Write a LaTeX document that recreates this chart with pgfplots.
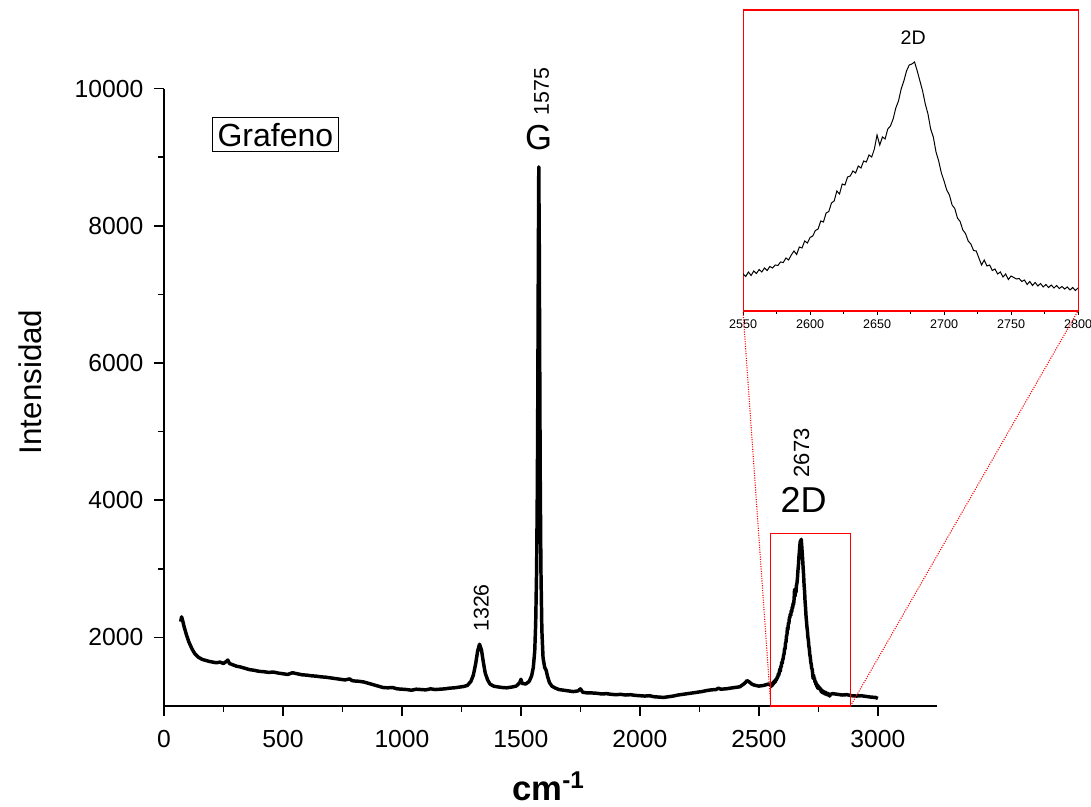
\documentclass[border=0pt]{standalone}
\usepackage{fontspec}
\setmainfont{Liberation Sans}
\usepackage{pgfplots}
\pgfplotsset{compat=1.18}
\usepackage{pgfplotstable}

% Raman spectrum of graphene
\pgfplotstableread{
x y
70 2230
74 2300
78 2250
85 2150
95 2030
105 1930
118 1830
130 1760
145 1710
160 1680
175 1665
190 1650
205 1640
220 1630
235 1640
250 1620
262 1650
268 1670
275 1620
290 1600
305 1580
320 1570
340 1550
360 1530
380 1520
400 1505
420 1500
440 1490
460 1495
480 1480
500 1470
520 1460
540 1485
560 1470
580 1455
600 1450
620 1440
640 1435
660 1425
680 1420
700 1410
720 1400
740 1390
760 1380
780 1395
790 1370
800 1365
820 1360
840 1350
860 1330
880 1310
900 1290
920 1270
940 1265
960 1270
980 1250
1000 1245
1020 1240
1040 1230
1060 1245
1080 1240
1100 1235
1120 1250
1140 1240
1160 1245
1180 1250
1200 1260
1220 1265
1240 1275
1260 1285
1275 1300
1290 1360
1300 1450
1310 1620
1318 1800
1326 1900
1334 1820
1342 1640
1350 1480
1360 1380
1370 1320
1385 1290
1400 1280
1420 1270
1440 1265
1460 1275
1480 1290
1495 1340
1500 1390
1505 1330
1520 1320
1535 1360
1545 1440
1552 1560
1558 1800
1562 2200
1566 3000
1569 4200
1571 5600
1573 7400
1575 8860
1577 7800
1579 6000
1581 4400
1584 3000
1588 2100
1593 1700
1600 1560
1606 1520
1612 1430
1620 1340
1630 1290
1645 1260
1660 1240
1680 1230
1700 1220
1720 1210
1740 1220
1750 1250
1760 1200
1780 1190
1800 1190
1820 1185
1840 1175
1860 1180
1880 1170
1900 1165
1920 1170
1940 1160
1960 1165
1980 1155
2000 1150
2020 1145
2040 1150
2060 1135
2080 1130
2100 1125
2120 1135
2140 1145
2160 1160
2180 1170
2200 1180
2220 1190
2240 1200
2260 1210
2280 1225
2300 1235
2320 1240
2330 1260
2340 1245
2360 1250
2380 1260
2400 1270
2420 1280
2440 1330
2450 1370
2460 1350
2470 1320
2480 1305
2500 1290
2520 1300
2540 1320
2550 1310
2552 1285
2554 1330
2556 1295
2558 1340
2560 1315
2562 1355
2564 1330
2566 1370
2568 1345
2570 1385
2572 1370
2574 1400
2576 1395
2578 1430
2580 1425
2582 1470
2584 1450
2586 1500
2588 1540
2590 1505
2592 1580
2594 1570
2596 1640
2598 1620
2600 1675
2602 1690
2604 1745
2606 1760
2608 1840
2610 1830
2612 1920
2614 1935
2616 2020
2618 2040
2620 2140
2622 2110
2624 2210
2626 2200
2628 2280
2630 2290
2632 2340
2634 2320
2636 2390
2638 2370
2640 2440
2642 2430
2644 2500
2646 2480
2648 2560
2650 2700
2652 2600
2654 2680
2656 2660
2658 2760
2660 2790
2662 2860
2664 2970
2666 3040
2668 3160
2670 3240
2672 3340
2674 3400
2676 3410
2678 3430
2680 3340
2682 3240
2684 3140
2686 3010
2688 2910
2690 2760
2692 2680
2694 2530
2696 2440
2698 2320
2700 2240
2702 2150
2704 2100
2706 2000
2708 1965
2710 1870
2712 1835
2714 1750
2716 1715
2718 1640
2720 1610
2722 1545
2724 1540
2726 1470
2728 1400
2730 1450
2732 1390
2734 1400
2736 1345
2738 1360
2740 1310
2742 1330
2744 1280
2746 1310
2748 1255
2750 1290
2752 1275
2754 1260
2756 1265
2758 1235
2760 1250
2762 1205
2764 1235
2766 1195
2768 1225
2770 1190
2772 1215
2774 1180
2776 1205
2778 1175
2780 1200
2782 1170
2784 1195
2786 1165
2788 1185
2790 1160
2792 1180
2794 1150
2796 1175
2798 1145
2800 1170
2810 1180
2830 1170
2850 1160
2870 1165
2890 1150
2910 1145
2930 1150
2950 1140
2970 1130
2990 1125
3000 1110
}\spec

\begin{document}
\begin{tikzpicture}
\begin{axis}[
    name=main,
    at={(0,0)}, anchor=south west,
    scale only axis,
    width=580pt, height=463pt,
    xmin=0, xmax=3250,
    ymin=1000, ymax=10000,
    axis x line*=bottom,
    axis y line*=left,
    axis line style={line width=1.5pt},
    tick style={line width=1.2pt, black},
    tick align=outside,
    major tick length=7.5pt,
    minor tick length=4.5pt,
    xtick={0,500,...,3000},
    ytick={2000,4000,...,10000},
    minor x tick num=1,
    minor y tick num=1,
    scaled y ticks=false,
    scaled x ticks=false,
    /pgf/number format/assume math mode=true,
    /pgf/number format/1000 sep={},
    tick label style={font=\fontsize{18.5}{20}\selectfont},
    xticklabel style={yshift=-7pt},
    yticklabel style={xshift=-4.5pt},
    xlabel={\textbf{cm}\textsuperscript{\textbf{-1}}},
    xlabel style={font=\fontsize{26}{28}\selectfont, at={(axis description cs:0.497,0)}, anchor=center, yshift=-60pt},
    ylabel={Intensidad},
    ylabel style={font=\fontsize{23.5}{25}\selectfont, at={(axis description cs:-0.1734,0.525)}, anchor=center},
    clip=false,
]
\addplot[black, line width=2.6pt, line join=round] table[x=x, y=y] {\spec};

\draw[red, line width=0.8pt] (axis cs:2550,1000) rectangle (axis cs:2885,3515);
\coordinate (rbl) at (axis cs:2550,1000);
\coordinate (rbr) at (axis cs:2885,1000);

\node[rotate=90, anchor=west, inner sep=0pt, font=\fontsize{16}{18}\selectfont] at (axis cs:1333,2080) {1326};
\node[anchor=south, inner sep=0pt, font=\fontsize{26}{28}\selectfont] at (axis cs:1574,9110) {G};
\node[rotate=90, anchor=west, inner sep=0pt, font=\fontsize{16}{18}\selectfont] at (axis cs:1587,9610) {1575};
\node[anchor=center, inner sep=0pt, font=\fontsize{27}{29}\selectfont] at (axis cs:2688,4011) {2D};
\node[rotate=90, anchor=west, inner sep=0pt, font=\fontsize{16.5}{18}\selectfont] at (axis cs:2679,4330) {2673};
\node[draw, line width=0.75pt, inner xsep=4pt, inner ysep=4pt, font=\fontsize{24}{26}\selectfont] at (axis cs:468,9329) {Grafeno};
\end{axis}

\begin{axis}[
    name=inset,
    at={(434.25pt,296.25pt)}, anchor=south west,
    scale only axis,
    width=251.25pt, height=225.75pt,
    xmin=2550, xmax=2800,
    ymin=940, ymax=3950,
    axis line style={red, line width=0.8pt},
    xtick={2550,2600,...,2800},
    minor x tick num=1,
    ytick=\empty,
    xtick pos=bottom,
    tick align=outside,
    tick style={black, line width=0.6pt},
    major tick length=3pt,
    minor tick length=2pt,
    /pgf/number format/assume math mode=true,
    /pgf/number format/1000 sep={},
    tick label style={font=\fontsize{9.4}{11}\selectfont},
    clip=true,
]
\addplot[black, line width=0.75pt] table[x=x, y=y] {\spec};
\node[anchor=center, font=\fontsize{14.7}{16}\selectfont] at (axis cs:2677,3670) {2D};
\coordinate (ibl) at (rel axis cs:0,0);
\coordinate (ibr) at (rel axis cs:1,0);
\end{axis}

\draw[red, densely dotted, line width=0.8pt] (rbl) -- (ibl);
\draw[red, densely dotted, line width=0.8pt] (rbr) -- (ibr);

\pgfresetboundingbox
\path[use as bounding box] (-123pt,-75pt) rectangle (695.25pt,529.5pt);
\end{tikzpicture}
\end{document}
